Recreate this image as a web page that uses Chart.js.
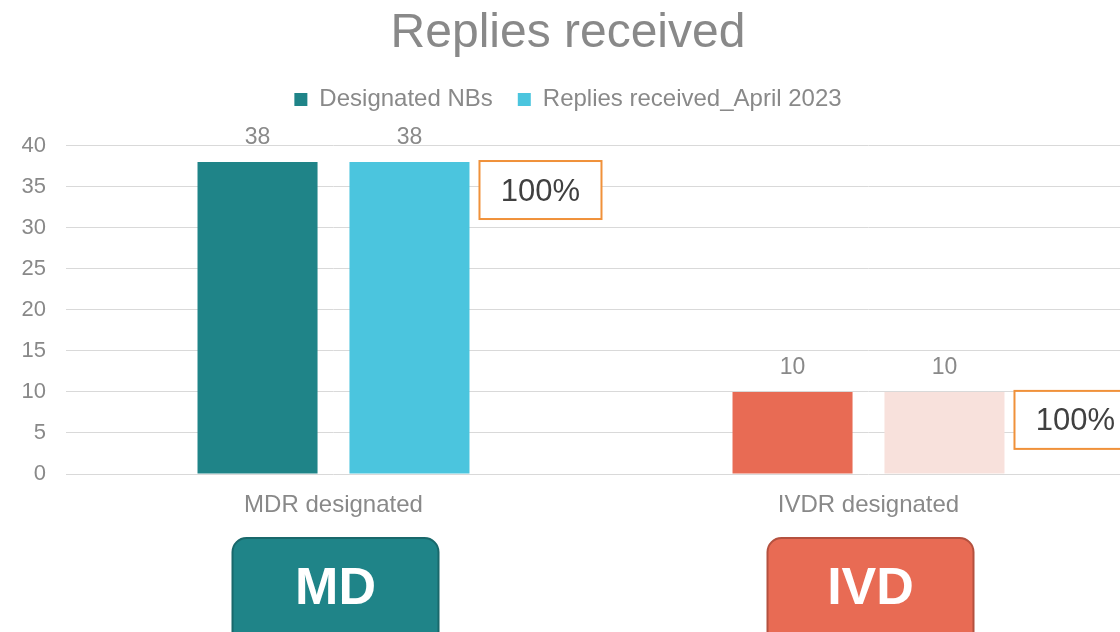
<!DOCTYPE html>
<html>
<head>
<meta charset="utf-8">
<script src="https://cdn.jsdelivr.net/npm/chart.js@4.4.0/dist/chart.umd.min.js"></script>
<style>
  html, body { margin: 0; padding: 0; background: #fff; overflow: hidden; }
  #wrap { position: relative; width: 1136px; height: 632px; }
</style>
</head>
<body>
<div id="wrap"><canvas id="chart"></canvas></div>
<script>
const categories = ["MDR designated", "IVDR designated"];
const designatedNBs = [38, 10];
const repliesReceived = [38, 10];
const badgeLabels = ["MD", "IVD"];

const darkColors = ["#1F8488", "#E86B54"];
const lightColors = ["#4BC5DE", "#F8E1DC"];
const badgeBorders = ["#19686B", "#B4513F"];

const FONT = "'Liberation Sans', Arial, sans-serif";
const GREY = "#898989";

// numbers above each bar
const valueLabels = {
  id: "valueLabels",
  afterDatasetsDraw(chart) {
    const ctx = chart.ctx;
    ctx.save();
    ctx.font = "23px " + FONT;
    ctx.fillStyle = GREY;
    ctx.textAlign = "center";
    ctx.textBaseline = "middle";
    chart.data.datasets.forEach((ds, i) => {
      chart.getDatasetMeta(i).data.forEach((bar, j) => {
        ctx.fillText(ds.data[j], bar.x, bar.y - 24);
      });
    });
    ctx.restore();
  }
};

// orange boxes with reply rate next to the second bar
const ratioBoxes = {
  id: "ratioBoxes",
  afterDatasetsDraw(chart) {
    const ctx = chart.ctx;
    ctx.save();
    chart.getDatasetMeta(1).data.forEach((bar, j) => {
      const pct = Math.round(repliesReceived[j] / designatedNBs[j] * 100) + "%";
      const x = bar.x + bar.width / 2 + 10;
      const y = bar.y - 1;
      ctx.fillStyle = "#fff";
      ctx.fillRect(x, y, 122, 58);
      ctx.strokeStyle = "#F0913A";
      ctx.lineWidth = 2;
      ctx.strokeRect(x, y, 122, 58);
      ctx.fillStyle = "#404040";
      ctx.font = "31px " + FONT;
      ctx.textAlign = "center";
      ctx.textBaseline = "middle";
      ctx.fillText(pct, x + 61, y + 31);
    });
    ctx.restore();
  }
};

// MD / IVD badges under the category labels
const badges = {
  id: "badges",
  afterDraw(chart) {
    const ctx = chart.ctx;
    const xs = chart.scales.x;
    ctx.save();
    badgeLabels.forEach((lbl, i) => {
      const cx = xs.getPixelForValue(i) + 2;
      ctx.beginPath();
      ctx.roundRect(cx - 103, 538, 206, 110, 14);
      ctx.fillStyle = darkColors[i];
      ctx.fill();
      ctx.lineWidth = 2;
      ctx.strokeStyle = badgeBorders[i];
      ctx.stroke();
      ctx.fillStyle = "#fff";
      ctx.font = "bold 52px " + FONT;
      ctx.textAlign = "center";
      ctx.textBaseline = "middle";
      ctx.fillText(lbl, cx, 590);
    });
    ctx.restore();
  }
};

new Chart(document.getElementById("chart"), {
  type: "bar",
  data: {
    labels: categories,
    datasets: [
      { label: "Designated NBs", data: designatedNBs, backgroundColor: darkColors },
      { label: "Replies received_April 2023", data: repliesReceived, backgroundColor: lightColors }
    ]
  },
  options: {
    responsive: true,
    maintainAspectRatio: false,
    animation: false,
    categoryPercentage: 0.568,
    barPercentage: 0.79,
    layout: { padding: 0 },
    plugins: {
      title: {
        display: true,
        text: "Replies received",
        color: GREY,
        font: { family: FONT, size: 48, weight: "normal" },
        padding: { top: 5, bottom: 0 }
      },
      // empty subtitle used as spacer between legend and plot
      subtitle: {
        display: true,
        text: "",
        weight: 500,
        font: { size: 1, lineHeight: 1 },
        padding: { top: 23, bottom: 0 }
      },
      legend: {
        position: "top",
        labels: {
          color: GREY,
          font: { family: FONT, size: 24 },
          boxWidth: 13,
          boxHeight: 13,
          padding: 25,
          generateLabels(chart) {
            return chart.data.datasets.map((ds, i) => ({
              text: ds.label,
              fillStyle: ds.backgroundColor[0],
              strokeStyle: ds.backgroundColor[0],
              lineWidth: 0,
              fontColor: GREY,
              datasetIndex: i
            }));
          }
        }
      },
      tooltip: { enabled: false }
    },
    scales: {
      x: {
        grid: { display: false },
        border: { display: false },
        ticks: { color: GREY, font: { family: FONT, size: 24 }, padding: 9 },
        afterFit(scale) { scale.height = 158; }
      },
      y: {
        min: 0,
        max: 40,
        ticks: { stepSize: 5, color: GREY, font: { family: FONT, size: 22 }, padding: 20 },
        grid: { color: "#D9D9D9", lineWidth: 1, drawTicks: false },
        border: { display: false },
        afterFit(scale) { scale.width = 66; }
      }
    }
  },
  plugins: [valueLabels, ratioBoxes, badges]
});
</script>
</body>
</html>
